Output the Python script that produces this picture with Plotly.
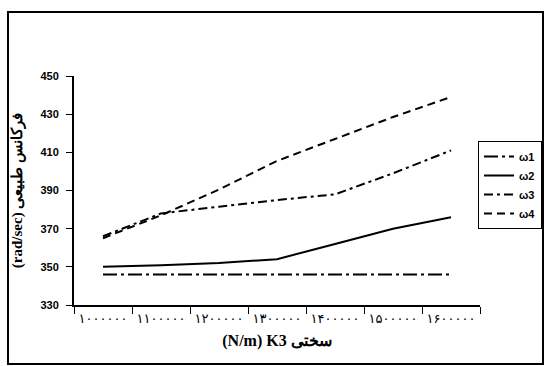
import plotly.graph_objects as go

categories = ["۱۰۰۰۰۰۰", "۱۱۰۰۰۰۰", "۱۲۰۰۰۰۰", "۱۳۰۰۰۰۰", "۱۴۰۰۰۰۰", "۱۵۰۰۰۰۰", "۱۶۰۰۰۰۰"]
w1 = [346, 346, 346, 346, 346, 346, 346]
w2 = [350, 350.8, 352, 354, 362, 370, 376]
w3 = [366, 378, 381.5, 385, 388, 399, 411]
w4 = [365, 377, 390.5, 405.5, 417, 428.5, 439]
y_ticks = [330, 350, 370, 390, 410, 430, 450]

series = [
    ("ω1", w1, "14px,4px,3px,4px"),
    ("ω2", w2, "solid"),
    ("ω3", w3, "9px,4px,3px,4px"),
    ("ω4", w4, "8px,5px"),
]

fig = go.Figure()
for name, vals, dash in series:
    fig.add_trace(go.Scatter(
        x=categories, y=vals, name=name, mode="lines",
        line=dict(color="black", width=2, dash=dash),
    ))

L, R, T, B = 74, 65, 76, 61
W, H = 545, 366
pw, ph = W - L - R, H - T - B

fig.update_layout(
    width=W, height=H,
    margin=dict(l=L, r=R, t=T, b=B, autoexpand=False),
    plot_bgcolor="white", paper_bgcolor="white",
    showlegend=True,
    legend=dict(
        x=(542 - L) / pw, y=(H - B - 141) / ph, xanchor="right", yanchor="top",
        bordercolor="black", borderwidth=1, bgcolor="white",
        font=dict(family="Liberation Sans", size=11, color="black", weight="bold"),
        tracegroupgap=0, itemwidth=30,
    ),
    xaxis=dict(
        type="category", range=[-0.5, 6.5], automargin=False,
        showline=True, linecolor="black", linewidth=2,
        ticks="outside", tickson="boundaries", ticklen=7, tickcolor="black", tickwidth=1,
        tickangle=0,
        showgrid=False, zeroline=False,
        tickfont=dict(family="DejaVu Sans", size=13, color="black"),
        title=dict(text="(N/m) K3 سختی", standoff=10,
                   font=dict(family="Liberation Serif", size=16, color="black", weight="bold")),
    ),
    yaxis=dict(
        range=[330, 450], tickvals=y_ticks, automargin=False,
        showline=True, linecolor="black", linewidth=2,
        ticks="outside", ticklen=6, tickcolor="black", tickwidth=1,
        ticklabelstandoff=5,
        showgrid=False, zeroline=False,
        tickfont=dict(family="Liberation Sans", size=11, color="black", weight="bold"),
        title=dict(text="(rad/sec) فرکانس طبیعی", standoff=14,
                   font=dict(family="Liberation Serif", size=15, color="black", weight="bold")),
    ),
    shapes=[dict(
        type="rect", xref="paper", yref="paper",
        x0=(8 - L) / pw, x1=(543 - L) / pw,
        y0=(H - B - 364) / ph, y1=(H - B - 12) / ph,
        line=dict(color="black", width=2), fillcolor="rgba(0,0,0,0)", layer="below",
    )],
)

fig.write_html("out.html", config={"displayModeBar": False},
               post_script="document.body.style.margin='0';")
